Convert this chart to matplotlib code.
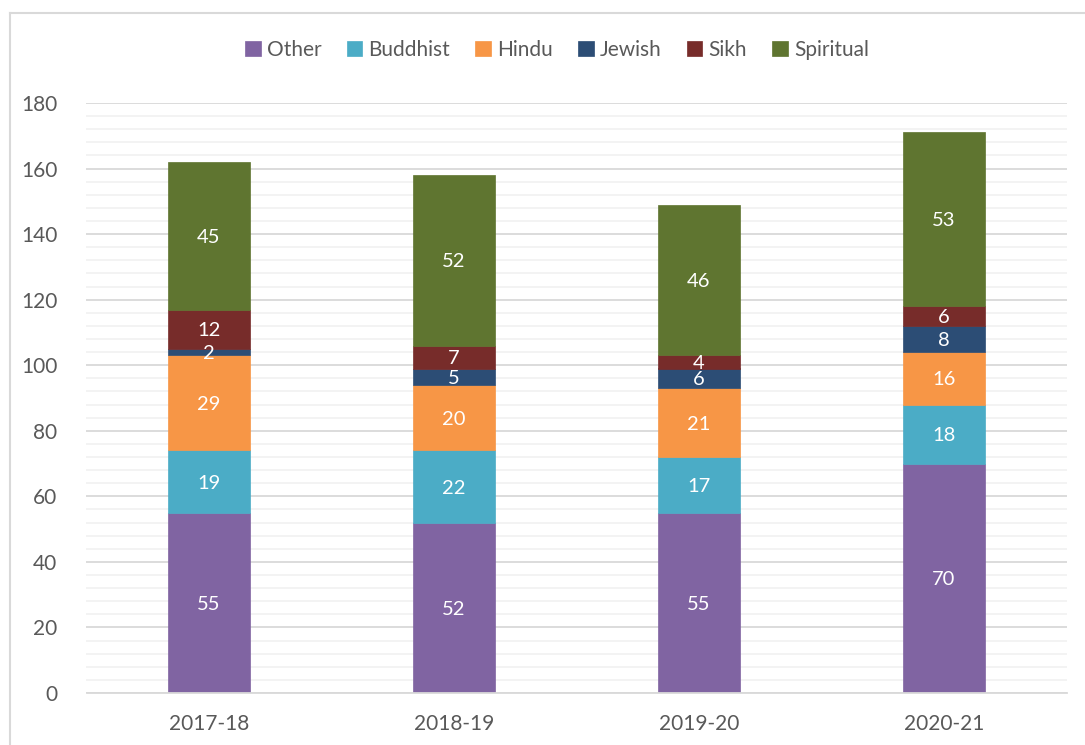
import matplotlib
matplotlib.use("Agg")
import matplotlib.pyplot as plt
from matplotlib.lines import Line2D
import numpy as np

plt.rcParams['font.family'] = ['Lato', 'DejaVu Sans']

years = ["2017-18", "2018-19", "2019-20", "2020-21"]
series_names = ["Other", "Buddhist", "Hindu", "Jewish", "Sikh", "Spiritual"]
other = [55, 52, 55, 70]
buddhist = [19, 22, 17, 18]
hindu = [29, 20, 21, 16]
jewish = [2, 5, 6, 8]
sikh = [12, 7, 4, 6]
spiritual = [45, 52, 46, 53]
colors = ["#8064A2", "#4BACC6", "#F79646", "#2C4D75", "#772C2A", "#5F7530"]

data = [other, buddhist, hindu, jewish, sikh, spiritual]

fig = plt.figure(figsize=(10.85, 7.45), dpi=100)
ax = fig.add_axes([86.5/1085, 1-693/745, (1066.5-86.5)/1085, (693-103)/745])

x = np.arange(len(years))
bottom = np.zeros(len(years))
for name, vals, c in zip(series_names, data, colors):
    vals = np.array(vals, dtype=float)
    ax.bar(x, vals, 0.335, bottom=bottom, color=c, label=name, zorder=3,
           edgecolor=c, linewidth=0.5)
    for xi, b, v in zip(x, bottom, vals):
        ax.text(xi, b + v/2, f"{int(v)}", ha="center", va="center_baseline",
                color="white", fontsize=14.5, zorder=4)
    bottom += vals

ax.set_xlim(-0.5, len(years)-0.5)
ax.set_ylim(0, 180)
ax.set_yticks(np.arange(0, 181, 20))
ax.set_yticks(np.arange(0, 181, 4), minor=True)
ax.grid(axis="y", which="major", color="#D9D9D9", linewidth=1.3, zorder=1)
ax.grid(axis="y", which="minor", color="#F2F2F2", linewidth=1.3, zorder=0)
ax.set_xticks(x)
ax.set_xticklabels(years)
ax.tick_params(axis="both", which="both", length=0, labelsize=15, colors="#595959")
ax.tick_params(axis="y", pad=21)
ax.tick_params(axis="x", pad=15)
for s in ["top", "right", "left"]:
    ax.spines[s].set_visible(False)
ax.spines["bottom"].set_color("#D9D9D9")
ax.spines["bottom"].set_linewidth(1.3)
ax.spines["bottom"].set_zorder(5)

leg = fig.legend(loc="center", bbox_to_anchor=(557/1085, 1-50/745), ncol=6,
                 frameon=False, fontsize=15, handlelength=0.75, handleheight=0.75,
                 handletextpad=0.3, columnspacing=1.2)
for t in leg.get_texts():
    t.set_color("#595959")

# chart border
fig.add_artist(Line2D([10/1085, 1.0], [1-13/745, 1-13/745], transform=fig.transFigure,
                      color="#D9D9D9", linewidth=1.5))
fig.add_artist(Line2D([10/1085, 10/1085], [0, 1-13/745], transform=fig.transFigure,
                      color="#D9D9D9", linewidth=1.5))

fig.savefig("out.png", dpi=100)
